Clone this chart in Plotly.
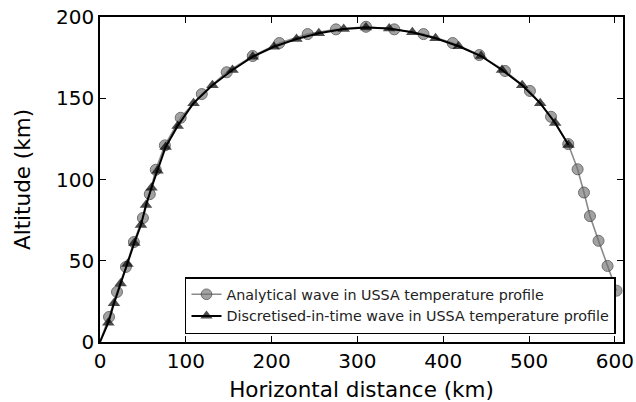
import plotly.graph_objects as go

# Analytical wave (circles); first point is the launch point at the origin (no marker)
ana_x = [0, 10.5, 19.8, 30.2, 39.5, 50, 58, 65, 75.6, 94, 118.6, 147.7, 178, 209, 242, 275, 310,
         343, 377, 411, 442, 472, 501, 525.6, 545.7, 556.6, 564, 571, 581, 591.5, 602]
ana_y = [0, 15.4, 30.8, 46.2, 61.5, 76.3, 91, 106, 121, 138, 152.6, 166, 176, 184, 189.5, 192.4, 194,
         192.4, 189.5, 184, 176.6, 166.8, 154.5, 138.6, 121.8, 106.3, 92, 77.5, 62.3, 46.8, 31.6]

# Discretised-in-time wave (triangles)
dis_x = [0, 9.7, 16.3, 24, 32, 40, 47.7, 53.6, 60, 67, 76.5, 90.5, 109, 131, 154.4, 178, 202.6, 229,
         255, 284, 310, 337, 364, 391, 418, 444, 468.5, 492, 513, 530.5, 546]
dis_y = [0, 11.9, 23.8, 36, 48, 61, 72, 84.3, 95, 105.4, 120, 133, 147, 158, 167.4, 175.6, 181.7, 186.5,
         190, 192.6, 193.6, 193, 190.6, 186.9, 182, 176, 167.4, 158, 147, 134.8, 121.2]

FONT = "DejaVu Sans"

ana_sizes = [0] + [11] * (len(ana_x) - 1)
dis_sizes = [0] + [11] * (len(dis_x) - 1)

fig = go.Figure()
fig.add_trace(go.Scatter(
    x=ana_x, y=ana_y, mode="lines+markers",
    name="Analytical wave in USSA temperature profile",
    line=dict(color="#8a8a8a", width=1.6),
    marker=dict(symbol="circle", size=ana_sizes, color="rgba(112,112,112,0.92)",
                line=dict(color="#333333", width=1)),
))
fig.add_trace(go.Scatter(
    x=dis_x, y=dis_y, mode="lines+markers",
    name="Discretised-in-time wave in USSA temperature profile",
    line=dict(color="black", width=2),
    marker=dict(symbol="triangle-up", size=dis_sizes, color="black",
                line=dict(color="black", width=0)),
))

axis_common = dict(
    showgrid=False, zeroline=False, showline=True, linecolor="black", linewidth=1.5,
    mirror="ticks", ticks="inside", ticklen=6, tickwidth=1.2, tickcolor="black",
    tickfont=dict(family=FONT, size=20, color="black"), automargin=False,
    ticklabeloverflow="allow",
)

fig.update_xaxes(range=[0, 609.5], dtick=100, tick0=0,
                 title=dict(text="Horizontal distance (km)", font=dict(family=FONT, size=21.5, color="black"),
                            standoff=11),
                 **axis_common)
fig.update_yaxes(range=[0, 200.01], dtick=50, tick0=0,
                 title=dict(text="Altitude (km)", font=dict(family=FONT, size=21.5, color="black"),
                            standoff=20),
                 **axis_common)

fig.update_layout(
    width=636, height=402,
    margin=dict(l=100, r=13, t=17, b=60, autoexpand=False),
    paper_bgcolor="white", plot_bgcolor="white",
    font=dict(family=FONT, color="black"),
    legend=dict(x=0.9866, y=0.0246, xanchor="right", yanchor="bottom",
                bgcolor="white", bordercolor="black", borderwidth=1.5,
                font=dict(family=FONT, size=14.3, color="#222"),
                tracegroupgap=0, itemwidth=30),
    showlegend=True,
)

# remove the browser's default 8px body margin so the figure fills the window exactly
fig.write_html("out.html",
               config={"displayModeBar": False},
               post_script="document.body.style.margin='0';document.body.style.overflow='hidden';")
